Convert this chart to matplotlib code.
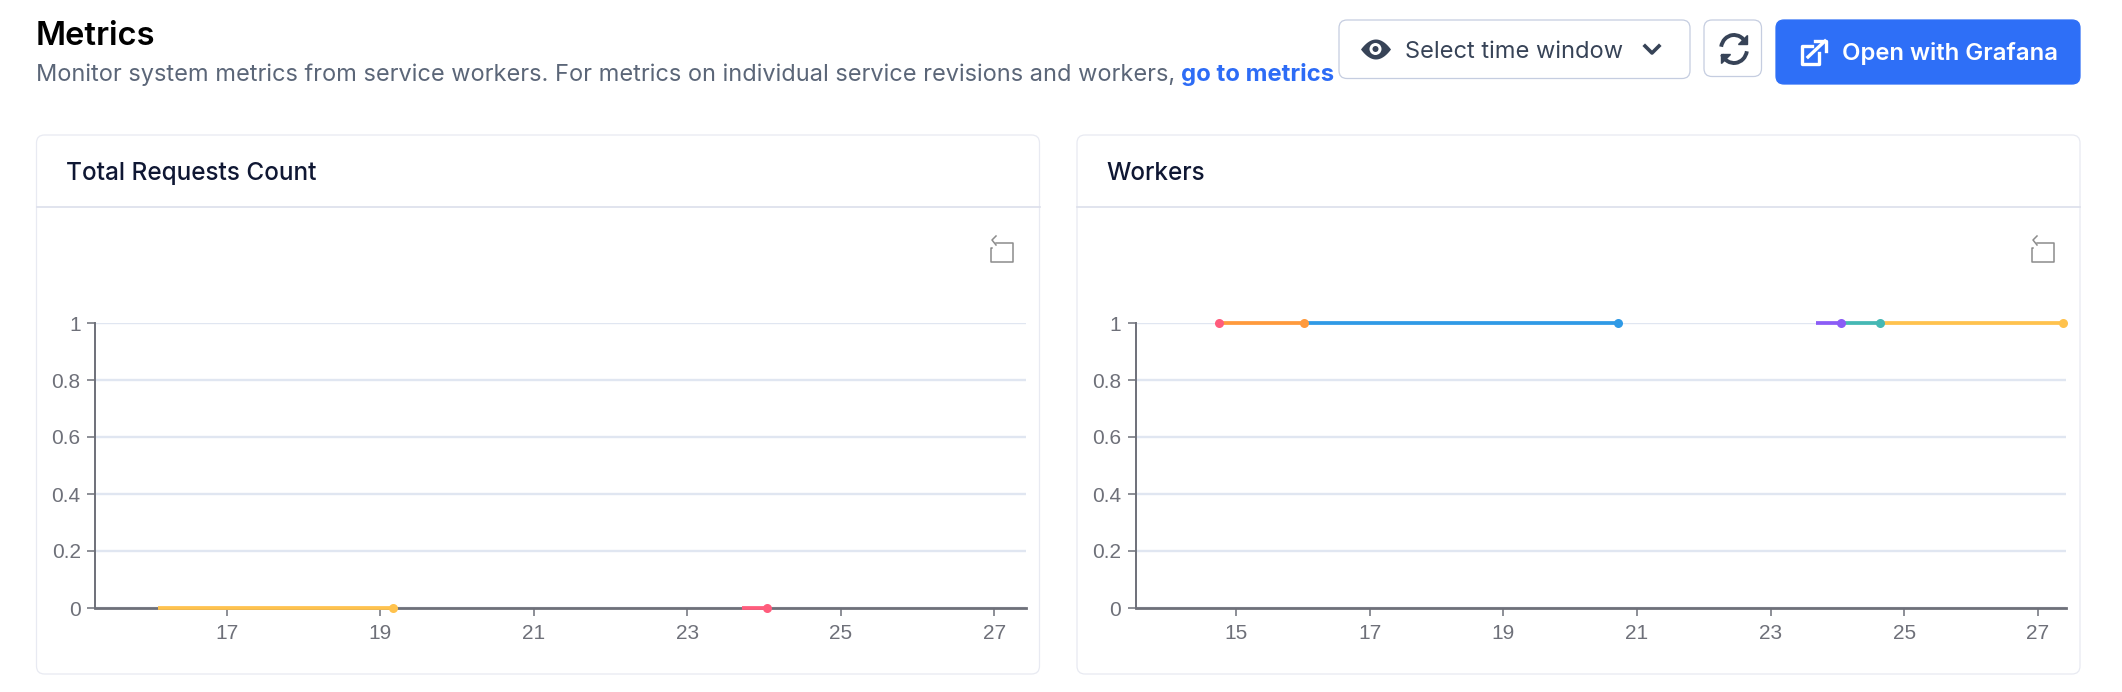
import numpy as np
from matplotlib import pyplot as plt
from matplotlib.patches import FancyBboxPatch, Arc, Circle, Polygon

W = 2122
H = 692

# data
y_ticks = [0, 0.2, 0.4, 0.6, 0.8, 1]
y_tick_labels = ['0', '0.2', '0.4', '0.6', '0.8', '1']

requests_ticks = [17, 19, 21, 23, 25, 27]
requests_xlim = [15.29, 27.41]
requests_yellow_x = [16.11, 19.17]
requests_yellow_y = [0, 0]
requests_red_x = [23.71, 24.04]
requests_red_y = [0, 0]

workers_ticks = [15, 17, 19, 21, 23, 25, 27]
workers_xlim = [13.50, 27.42]
workers_red_x = [14.75]
workers_red_y = [1]
workers_orange_x = [14.75, 16.01]
workers_orange_y = [1, 1]
workers_blue_x = [16.01, 20.72]
workers_blue_y = [1, 1]
workers_purple_x = [23.68, 24.06]
workers_purple_y = [1, 1]
workers_teal_x = [24.06, 24.63]
workers_teal_y = [1, 1]
workers_yellow_x = [24.63, 27.38]
workers_yellow_y = [1, 1]

YELLOW = '#ffc24d'
RED = '#ff5c7c'
ORANGE = '#ff9a3c'
BLUE = '#2f9ae6'
PURPLE = '#8b5cf6'
TEAL = '#45b8b4'
AXIS = '#6e7079'
GRID = '#e0e6f1'

plt.rcParams['font.family'] = ['Inter', 'DejaVu Sans']

fig = plt.figure(figsize=(W / 100, H / 100), dpi=100)

# page furniture, in pixel coordinates
ui = fig.add_axes([0, 0, 1, 1], zorder=0)
ui.set_xlim(0, W)
ui.set_ylim(H, 0)
ui.axis('off')


def box(x0, y0, x1, y1, r, fc, ec):
    ui.add_patch(FancyBboxPatch((x0 + r, y0 + r), x1 - x0 - 2 * r, y1 - y0 - 2 * r,
                                boxstyle='round,pad=%f,rounding_size=%f' % (r, r),
                                fc=fc, ec=ec, lw=0.9))


def restore_icon(x):
    ui.plot([x + 5, x + 22, x + 22, x, x, x + 1], [243, 243, 262, 262, 248, 248], color='#8c8c8c', lw=1.1)
    ui.plot([x + 5, x + 1, x + 5], [236, 240, 245], color='#8c8c8c', lw=1.1)


ui.text(36, 45, 'Metrics', fontsize=23.5, fontweight='semibold', color='black')
ui.text(36, 81, 'Monitor system metrics from service workers. For metrics on individual service revisions and workers,',
        fontsize=16.95, color='#5b6678')
ui.text(1181, 81, 'go to metrics', fontsize=17.2, fontweight='bold', color='#2d6cf6')

for x0, x1, title in [(36.5, 1039.5, 'Total Requests Count'), (1077, 2080, 'Workers')]:
    box(x0, 135, x1, 674, 8, 'white', '#e8eaf2')
    ui.plot([x0, x1], [207, 207], color='#dcdfeb', lw=1.2)
    ui.text(x0 + 29.5, 180, title, fontsize=17.5, fontweight='medium', color='#0f1733')

restore_icon(991)
restore_icon(2032)

box(1339, 20, 1690, 78.5, 8, 'white', '#c5cde0')
ui.text(1405, 58, 'Select time window', fontsize=17, color='#374357')
t = np.linspace(-1, 1, 40)
ui.fill_between(1375.5 + 15 * t, 49 - 10 * (1 - t ** 2), 49 + 10 * (1 - t ** 2), color='#374357', lw=0)
ui.add_patch(Circle((1375.5, 49), 6, fc='white', ec='none'))
ui.add_patch(Circle((1375.5, 49), 3, fc='#374357', ec='none'))
ui.plot([1645, 1652, 1659], [46, 53, 46], color='#374357', lw=2.6)

box(1704, 20, 1761.5, 76.5, 8, 'white', '#c5cde0')
ui.add_patch(Arc((1734, 49), 26, 28, theta1=190, theta2=335, color='#374357', lw=2.8))
ui.add_patch(Arc((1734, 49), 26, 28, theta1=10, theta2=155, color='#374357', lw=2.8))
ui.add_patch(Polygon([[1738, 44], [1747, 44], [1747, 35]], fc='#374357', ec='#374357', lw=1))
ui.add_patch(Polygon([[1730, 54], [1721, 54], [1721, 63]], fc='#374357', ec='#374357', lw=1))

box(1776, 20, 2080, 84, 8, '#2e6ff7', '#2e6ff7')
ui.text(1841.5, 60, 'Open with Grafana', fontsize=17.2, fontweight='semibold', color='white')
ui.plot([1812, 1802, 1802, 1819, 1819], [46, 46, 64, 64, 53], color='white', lw=2.4)
ui.plot([1808, 1825], [57, 41], color='white', lw=2.4)
ui.plot([1815, 1826, 1826], [41, 41, 51], color='white', lw=2.4)


def chart(x0, x1, xlim, xticks):
    ax = fig.add_axes([x0 / W, (H - 608) / H, (x1 - x0) / W, 285 / H], zorder=1)
    ax.patch.set_alpha(0)
    ax.set_xlim(xlim)
    ax.set_ylim(0, 1)
    ax.set_xticks(xticks)
    ax.set_yticks(y_ticks)
    ax.set_yticklabels(y_tick_labels)
    ax.grid(axis='y', color=GRID, lw=1.7)
    ax.set_axisbelow(True)
    for s in ['top', 'right']:
        ax.spines[s].set_visible(False)
    ax.spines['left'].set_color(AXIS)
    ax.spines['bottom'].set_color(AXIS)
    ax.spines['left'].set_linewidth(1.4)
    ax.spines['bottom'].set_linewidth(2)
    ax.tick_params(axis='both', color=AXIS, labelcolor=AXIS, labelsize=15, width=1.1, length=5.5)
    ax.tick_params(axis='x', pad=6)
    ax.tick_params(axis='y', pad=5)
    for lab in ax.get_xticklabels() + ax.get_yticklabels():
        lab.set_family('Liberation Sans')
    return ax


def series(ax, x, y, color, z):
    # earlier series sit on top, so each end marker covers the start of the next line
    ax.plot(x, y, color=color, lw=2.7, marker='o', ms=6.5, mew=0, markevery=[len(x) - 1],
            clip_on=False, zorder=z, solid_capstyle='butt')


ax1 = chart(95.3, 1025.6, requests_xlim, requests_ticks)
series(ax1, requests_yellow_x, requests_yellow_y, YELLOW, 6)
series(ax1, requests_red_x, requests_red_y, RED, 5)

ax2 = chart(1135.9, 2066, workers_xlim, workers_ticks)
series(ax2, workers_red_x, workers_red_y, RED, 10)
series(ax2, workers_orange_x, workers_orange_y, ORANGE, 9)
series(ax2, workers_blue_x, workers_blue_y, BLUE, 8)
series(ax2, workers_purple_x, workers_purple_y, PURPLE, 7)
series(ax2, workers_teal_x, workers_teal_y, TEAL, 6)
series(ax2, workers_yellow_x, workers_yellow_y, YELLOW, 5)

fig.savefig('out.png', dpi=100)
